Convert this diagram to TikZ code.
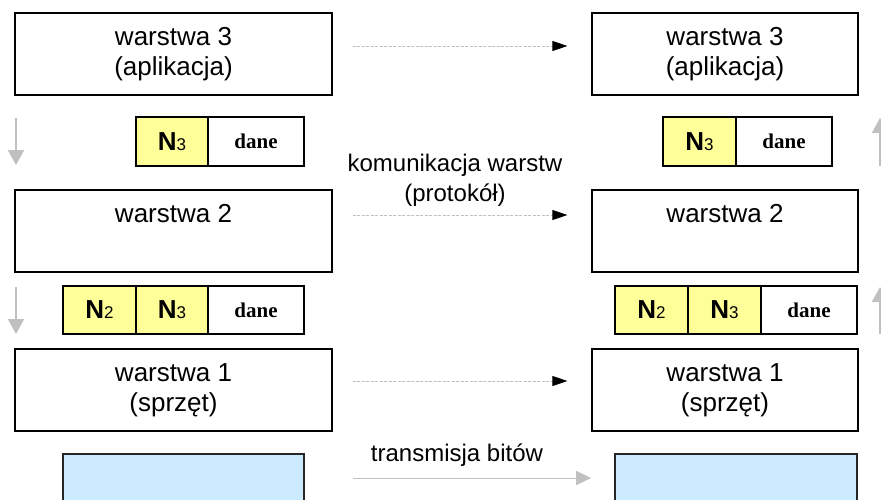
\documentclass[tikz,border=0pt]{standalone}
\usepackage{fontspec}
\setmainfont{Liberation Sans}
\newfontfamily\danefont{Liberation Serif}
\usetikzlibrary{arrows.meta}
\definecolor{hdrfill}{HTML}{FFFF99}
\definecolor{wirefill}{HTML}{CCEBFF}
\definecolor{guide}{HTML}{C0C0C0}

\begin{document}
\begin{tikzpicture}[x=1pt,y=-1pt,
  layer/.style={draw=black,line width=1.2pt,minimum height=82pt,inner sep=0pt,
    align=center,font=\fontsize{26}{30}\selectfont},
  cell/.style={draw=black,line width=1.6pt,inner sep=0pt},
  hcell/.style={cell,fill=hdrfill,minimum width=73pt},
  dcell/.style={cell,fill=white,minimum width=96pt,
    font=\danefont\fontsize{21}{21}\selectfont\bfseries},
  wire/.style={draw=black!85,line width=1.6pt,fill=wirefill,minimum height=86pt,inner sep=0pt},
  peer/.style={draw=guide,line width=0.8pt,dash pattern=on 3pt off 1.5pt,
    -{Triangle[length=15pt,width=10pt,color=black,fill=black]},
    shorten <=20pt,shorten >=24pt},
  flow/.style={draw=guide,line width=2pt,-{Triangle[length=15pt,width=16pt]}},
  caption/.style={align=center,font=\fontsize{24}{30}\selectfont,inner sep=0pt}
]
\useasboundingbox (0,0) rectangle (881,499);
\clip (0,0) rectangle (881,499);

\newcommand{\hdr}[1]{{\fontsize{26}{26}\selectfont\bfseries N}{\fontsize{17}{17}\selectfont #1}}

% layers, sending side
\node[layer,minimum width=317pt] (s3) at (173.5,54) {warstwa 3\\(aplikacja)};
\node[layer,minimum width=317pt] (s2) at (173.5,231) {warstwa 2\\\phantom{(x)}};
\node[layer,minimum width=317pt] (s1) at (173.5,390) {warstwa 1\\(sprzęt)};
% layers, receiving side
\node[layer,minimum width=266pt] (r3) at (725,54) {warstwa 3\\(aplikacja)};
\node[layer,minimum width=266pt] (r2) at (725,231) {warstwa 2\\\phantom{(x)}};
\node[layer,minimum width=266pt] (r1) at (725,390) {warstwa 1\\(sprzęt)};

% packets, sending side
\node[hcell,minimum width=72pt,minimum height=49pt] (sa3) at (172,141.5) {\hdr{3}};
\node[dcell,minimum height=49pt] (sad) at (256,141.5) {dane};
\node[hcell,minimum height=48pt] (sb2) at (99.5,310) {\hdr{2}};
\node[hcell,minimum width=72pt,minimum height=48pt] (sb3) at (172,310) {\hdr{3}};
\node[dcell,minimum height=48pt] (sbd) at (256,310) {dane};
% packets, receiving side
\node[hcell,minimum height=49pt] (ra3) at (699.5,141.5) {\hdr{3}};
\node[dcell,minimum height=49pt] (rad) at (784,141.5) {dane};
\node[hcell,minimum height=48pt] (rb2) at (651.5,310) {\hdr{2}};
\node[hcell,minimum height=48pt] (rb3) at (724.5,310) {\hdr{3}};
\node[dcell,minimum height=48pt] (rbd) at (809,310) {dane};

% physical medium
\node[wire,minimum width=241pt] (ms) at (183.5,497) {};
\node[wire,minimum width=242pt] (mr) at (736,497) {};

% peer-to-peer communication
\draw[peer] ([yshift=8pt]s3.east) -- ([yshift=8pt]r3.west);
\draw[peer] ([yshift=16pt]s2.east) -- ([yshift=16pt]r2.west);
\draw[peer] ([yshift=9pt]s1.east) -- ([yshift=9pt]r1.west);
\draw[draw=guide,line width=1pt,-{Triangle[length=15pt,width=14pt,color=guide,fill=guide]},
  shorten <=48pt,shorten >=23pt] ([yshift=19pt]ms.east) -- ([yshift=19pt]mr.west);

\node[caption] (proto) at (455,180) {komunikacja warstw\\(protokół)};
\node[caption] (bits) at (457,455) {transmisja bitów};

% direction of data flow
\coordinate (d1a) at (16,118);  \coordinate (d1b) at (16,165);
\coordinate (d2a) at (16,287);  \coordinate (d2b) at (16,334);
\coordinate (u1a) at (880,166); \coordinate (u1b) at (880,118);
\coordinate (u2a) at (880,334); \coordinate (u2b) at (880,287);
\draw[flow] (d1a) -- (d1b);
\draw[flow] (d2a) -- (d2b);
\draw[flow] (u1a) -- (u1b);
\draw[flow] (u2a) -- (u2b);
\end{tikzpicture}
\end{document}
